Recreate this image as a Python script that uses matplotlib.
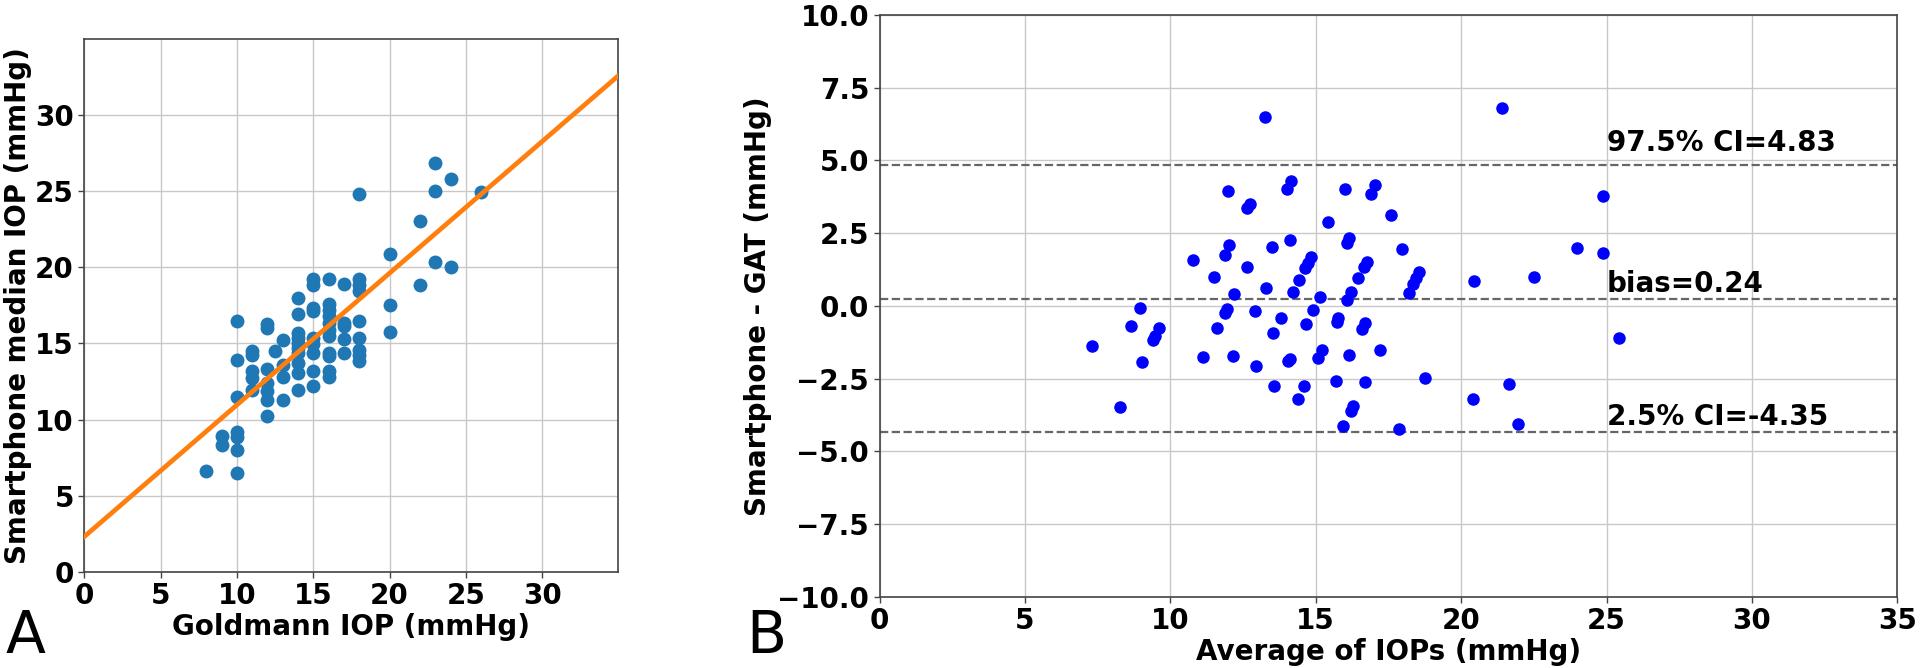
import matplotlib

matplotlib.use("Agg")
import matplotlib.pyplot as plt
import numpy as np

# Panel A: Goldmann IOP vs smartphone median IOP (mmHg)
gat_iop = [
    23, 24, 23, 26, 18, 22, 20, 23, 24, 22, 15, 15, 16, 17, 18, 18, 18, 14,
    15, 15, 16, 16, 16, 16, 20, 10, 12, 12, 14, 17, 17, 18, 20,
    13, 14, 14, 14, 14, 14, 15, 15, 15, 16, 16, 16, 16, 17, 17, 18, 18, 18, 18,
    11, 11, 12.5, 10, 13, 13, 14, 14, 15, 15, 16, 16, 11, 11, 11,
    12, 12, 12, 12, 12, 14, 13, 10, 9, 9, 10, 10, 10, 8, 10,
]
phone_iop = [
    26.8, 25.8, 25.0, 24.9, 24.8, 23.0, 20.85, 20.3, 20.0, 18.85, 19.2, 18.85, 19.2, 18.9, 19.2, 18.8, 18.4, 18.0,
    17.3, 17.1, 17.55, 17.2, 16.8, 16.35, 17.5, 16.45, 16.25, 16.0, 16.9, 16.35, 16.1, 16.45, 15.75,
    15.2, 15.68, 15.35, 15.03, 14.7, 14.37, 15.35, 14.92, 14.37, 15.9, 15.46, 14.37, 14.15, 15.29, 14.37, 15.35, 14.59, 14.26, 13.82,
    14.5, 14.25, 14.5, 13.9, 13.6, 12.8, 13.7, 13.05, 13.15, 12.2, 13.2, 12.8, 13.15, 12.75, 11.95,
    13.3, 12.4, 11.85, 11.3, 10.2, 11.95, 11.3, 11.5, 8.9, 8.3, 9.2, 8.85, 8.0, 6.6, 6.5,
]
fit_slope = 0.864
fit_intercept = 2.32

# Panel B: Bland-Altman
mean_iop = [
    13.26, 11.98, 12.65, 12.75, 14.0, 14.16, 15.99, 16.91, 17.04, 17.58, 15.43, 17.96,
    10.77, 11.5, 11.88, 12.02, 12.64, 12.19, 13.5, 14.11, 13.29, 14.43, 14.22,
    14.64, 14.73, 14.82, 15.16, 16.08, 16.15, 16.08, 16.21, 16.46, 16.66, 16.75,
    18.2, 18.35, 18.44, 18.55,
    8.94, 8.65, 9.6, 9.42, 9.48, 11.95, 11.88, 11.62, 12.9, 13.52, 13.79, 14.67, 14.92,
    15.72, 15.78, 16.6, 16.7,
    7.32, 9.03, 11.12, 12.16, 12.95, 14.03, 14.11, 15.08, 15.23, 16.14, 17.22,
    13.58, 14.6, 14.38, 15.69, 16.68, 16.2, 16.27, 15.94, 17.85, 8.27,
    21.4, 24.87, 23.99, 24.89, 20.43, 22.5, 25.43, 18.77, 21.66, 20.41, 21.96,
]
diff_iop = [
    6.5, 3.95, 3.35, 3.51, 4.02, 4.31, 4.02, 3.83, 4.14, 3.14, 2.9, 1.94,
    1.58, 0.99, 1.76, 2.09, 1.33, 0.4, 2.02, 2.25, 0.62, 0.88, 0.48,
    1.3, 1.49, 1.67, 0.32, 2.16, 2.32, 0.21, 0.47, 0.96, 1.32, 1.51,
    0.44, 0.75, 0.95, 1.15,
    -0.09, -0.68, -0.76, -1.18, -1.05, -0.11, -0.25, -0.76, -0.18, -0.94, -0.4, -0.62, -0.15,
    -0.56, -0.42, -0.8, -0.6,
    -1.38, -1.94, -1.77, -1.72, -2.06, -1.91, -1.81, -1.8, -1.51, -1.68, -1.51,
    -2.77, -2.77, -3.21, -2.58, -2.63, -3.61, -3.43, -4.13, -4.24, -3.46,
    6.79, 3.77, 1.98, 1.81, 0.86, 1.01, -1.09, -2.48, -2.68, -3.19, -4.05,
]
limit_values = [4.83, 0.24, -4.35]
limit_labels = ["97.5% CI=4.83", "bias=0.24", "2.5% CI=-4.35"]
label_offsets = [0.5, 0.23, 0.26]

plt.rcParams["font.family"] = "DejaVu Sans"
plt.rcParams["font.weight"] = "bold"

fig = plt.figure(figsize=(19.2, 6.68), dpi=100)
TXT = 20


def style_axes(ax):
    ax.grid(True, color="#c8c8c8", linewidth=1.0)
    ax.set_axisbelow(True)
    for s in ax.spines.values():
        s.set_color("#444444")
        s.set_linewidth(1.2)
    ax.tick_params(labelsize=TXT, length=4, width=1, color="#444444")
    for lab in ax.get_xticklabels() + ax.get_yticklabels():
        lab.set_fontweight("bold")


# --- panel A
ax1 = fig.add_axes([0.0439, 0.1437, 0.2779, 0.7979])
ax1.scatter(gat_iop, phone_iop, s=81, color="#1f77b4", zorder=3)
lim_a = 34.95
xs = np.array([0.0, lim_a])
ax1.plot(xs, fit_slope * xs + fit_intercept, color="#ff7f0e", linewidth=3.4, zorder=4)
ax1.set_xlim(0, lim_a)
ax1.set_ylim(0, lim_a)
ax1.set_xticks(np.arange(0, 31, 5))
ax1.set_yticks(np.arange(0, 31, 5))
ax1.set_xlabel("Goldmann IOP (mmHg)", fontsize=TXT, fontweight="bold", labelpad=2)
ax1.set_ylabel("Smartphone median IOP (mmHg)", fontsize=TXT, fontweight="bold", labelpad=2)
style_axes(ax1)

# --- panel B
ax2 = fig.add_axes([0.4581, 0.1067, 0.5301, 0.8708])
ax2.scatter(mean_iop, diff_iop, s=64, color="blue", zorder=3)
for val, lab, off in zip(limit_values, limit_labels, label_offsets):
    ax2.axhline(val, color="#666666", linestyle="--", linewidth=1.6, zorder=2)
    ax2.text(25, val + off, lab, fontsize=TXT, fontweight="bold", va="baseline")
ax2.set_xlim(0, 35)
ax2.set_ylim(-10, 10)
ax2.set_xticks(np.arange(0, 36, 5))
ax2.set_yticks(np.arange(-10, 10.1, 2.5))
ax2.set_xlabel("Average of IOPs (mmHg)", fontsize=TXT, fontweight="bold", labelpad=2)
ax2.set_ylabel("Smartphone - GAT (mmHg)", fontsize=TXT, fontweight="bold")
style_axes(ax2)

# panel letters
fig.text(0.003, 0.022, "A", fontsize=42, fontweight="normal")
fig.text(0.3885, 0.022, "B", fontsize=42, fontweight="normal")

fig.savefig("out.png", dpi=100)
